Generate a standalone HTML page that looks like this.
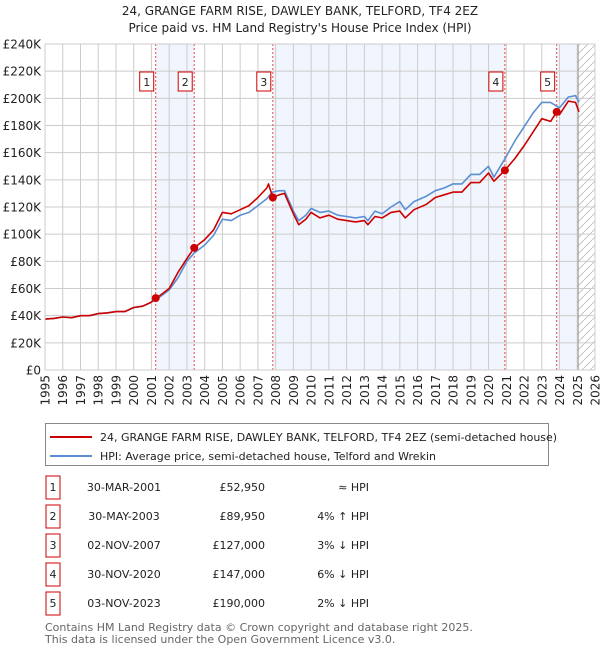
<!DOCTYPE html>
<html><head><meta charset="utf-8"><style>
body{margin:0;background:#fff;font-family:"Liberation Sans","DejaVu Sans",sans-serif;}
svg text{font-family:"DejaVu Sans","Liberation Sans",sans-serif;}
</style></head><body>
<svg id="c" width="600" height="650" xmlns="http://www.w3.org/2000/svg"></svg>
<script>
const years=[1995,1996,1997,1998,1999,2000,2001,2002,2003,2004,2005,2006,2007,2008,2009,2010,2011,2012,2013,2014,2015,2016,2017,2018,2019,2020,2021,2022,2023,2024,2025,2026];
const yTicks=[0,20,40,60,80,100,120,140,160,180,200,220,240];
const hpiDates=[1995,1995.5,1996,1996.5,1997,1997.5,1998,1998.5,1999,1999.5,2000,2000.5,2001,2001.5,2002,2002.5,2003,2003.4,2004,2004.5,2005,2005.5,2006,2006.5,2007,2007.5,2007.8,2008.2,2008.5,2009,2009.3,2009.7,2010,2010.5,2011,2011.5,2012,2012.5,2013,2013.2,2013.6,2014,2014.5,2015,2015.3,2015.8,2016.5,2017,2017.5,2018,2018.5,2019,2019.5,2020,2020.3,2020.9,2021.5,2022,2022.5,2023,2023.5,2024,2024.5,2024.9,2025.1];
const hpiVals=[37.5,38,39,38.5,40,40,41.5,42,43,43,46,47,50,54,59,68,80,86,92,99,111,110,114,116,121,126,131,132,132,117,110,114,119,116,117,114,113,112,113,110,117,115,120,124,118,124,128,132,134,137,137,144,144,150,142,155,169,179,189,197,197,193,201,202,197];
const saleDates=[2001.24,2003.41,2007.84,2020.92,2023.84];
const saleVals=[52.95,89.95,127,147,190];
const propDates=[1995,1995.5,1996,1996.5,1997,1997.5,1998,1998.5,1999,1999.5,2000,2000.5,2001,2001.24,2001.5,2002,2002.5,2003,2003.41,2004,2004.5,2005,2005.5,2006,2006.5,2007,2007.5,2007.6,2007.84,2008.2,2008.5,2009,2009.3,2009.7,2010,2010.5,2011,2011.5,2012,2012.5,2013,2013.2,2013.6,2014,2014.5,2015,2015.3,2015.8,2016.5,2017,2017.5,2018,2018.5,2019,2019.5,2020,2020.3,2020.92,2021.5,2022,2022.5,2023,2023.5,2023.84,2024,2024.5,2024.9,2025.1];
const propVals=[37.5,38,39,38.5,40,40,41.5,42,43,43,46,47,50,52.95,55,60,72,82,89.95,96,103,116,115,118,121,127,134,137,127,129,130,115,107,111,116,112,114,111,110,109,110,107,113,112,116,117,112,118,122,127,129,131,131,138,138,145,139,147,156,165,175,185,183,190,188,198,197,190];
const NS="http://www.w3.org/2000/svg";
const svg=document.getElementById('c');
const X0=45,X1=595,Y0=370,Y1=44;
const xs=v=>X0+(v-1995)/31*(X1-X0);
const ys=v=>Y0-v/240*(Y0-Y1);
function mk(t,a,p){const e=document.createElementNS(NS,t);for(const k in a)e.setAttribute(k,a[k]);(p||svg).appendChild(e);return e;}
let t=mk('text',{x:300,y:15,'text-anchor':'middle','font-size':12,fill:'#222'});t.textContent="24, GRANGE FARM RISE, DAWLEY BANK, TELFORD, TF4 2EZ";


t=mk('text',{x:300,y:32,'text-anchor':'middle','font-size':12,fill:'#222'});t.textContent="Price paid vs. HM Land Registry's House Price Index (HPI)";


const bands=[[saleDates[0],saleDates[1]],[saleDates[2],saleDates[3]],[saleDates[4],2025.05]];
bands.forEach(b=>{const r=mk('rect',{x:xs(b[0]),y:Y1,width:xs(b[1])-xs(b[0]),height:Y0-Y1,fill:'#f1f5fd'});

});
const defs=mk('defs',{});const pat=mk('pattern',{id:'h',width:8,height:8,patternUnits:'userSpaceOnUse'},defs);
mk('path',{d:'M0,8 L8,0',stroke:'#bbb','stroke-width':0.8},pat);
const hx=xs(2025.05);
let hr=mk('rect',{x:hx,y:Y1,width:X1-hx,height:Y0-Y1,fill:'url(#h)'});


yTicks.forEach(v=>{const l=mk('line',{x1:X0,x2:X1,y1:ys(v),y2:ys(v),stroke:'#ccc','stroke-width':1});


const tx=mk('text',{x:X0-4,y:ys(v)+4.5,'text-anchor':'end','font-size':12,fill:'#222'});tx.textContent=v===0?'£0':'£'+v+'K';

});
years.forEach(v=>{const l=mk('line',{x1:xs(v),x2:xs(v),y1:Y1,y2:Y0,stroke:'#ccc','stroke-width':1});


const tx=mk('text',{x:0,y:0,'text-anchor':'end','font-size':12,fill:'#222',transform:`translate(${xs(v)+4.5},${Y0+5}) rotate(-90)`});tx.textContent=v;

});
mk('line',{x1:hx,x2:hx,y1:Y1,y2:Y0,stroke:'#999','stroke-width':1});
saleDates.forEach((d,i)=>{const l=mk('line',{x1:xs(d),x2:xs(d),y1:Y1,y2:Y0,stroke:'#e44','stroke-width':1,'stroke-dasharray':'2,2'});


const g=mk('g',{});


mk('rect',{x:xs(d)-16,y:72,width:14,height:19,fill:'#fff',stroke:'#c00','stroke-width':1},g);
const tx=mk('text',{x:xs(d)-9,y:86,'text-anchor':'middle','font-size':11,fill:'#222'},g);tx.textContent=i+1;});
function line(dates,vals,col,name){const p=mk('path',{d:dates.map((d,i)=>(i?'L':'M')+xs(d).toFixed(1)+','+ys(vals[i]).toFixed(1)).join(''),fill:'none',stroke:col,'stroke-width':1.6,'stroke-linejoin':'round'});

}
line(hpiDates,hpiVals,'#5b8fd4','hpi-line');
line(propDates,propVals,'#cc0000','price-paid-line');
saleDates.forEach((d,i)=>{const c=mk('circle',{cx:xs(d),cy:ys(saleVals[i]),r:4,fill:'#cc0000'});

});
mk('rect',{x:X0,y:Y1,width:X1-X0,height:Y0-Y1,fill:'none',stroke:'#ccc'});
const lg=mk('g',{});


mk('rect',{x:45.5,y:423.5,width:503,height:42,fill:'#fff',stroke:'#888'},lg);
mk('line',{x1:50,x2:92,y1:437,y2:437,stroke:'#cc0000','stroke-width':2},lg);
mk('line',{x1:50,x2:92,y1:456,y2:456,stroke:'#5b8fd4','stroke-width':2},lg);
t=mk('text',{x:100,y:441,'font-size':11,fill:'#222'},lg);t.textContent="24, GRANGE FARM RISE, DAWLEY BANK, TELFORD, TF4 2EZ (semi-detached house)";
t=mk('text',{x:100,y:460,'font-size':11,fill:'#222'},lg);t.textContent="HPI: Average price, semi-detached house, Telford and Wrekin";
const tDates=["30-MAR-2001","30-MAY-2003","02-NOV-2007","30-NOV-2020","03-NOV-2023"];
const tPrices=["£52,950","£89,950","£127,000","£147,000","£190,000"];
const tHpi=["≈ HPI","4% ↑ HPI","3% ↓ HPI","6% ↓ HPI","2% ↓ HPI"];
tDates.forEach((d,i)=>{const y=487+i*29;const g=mk('g',{});


mk('rect',{x:46,y:y-11,width:14,height:23,fill:'#fff',stroke:'#c00'},g);
let a=mk('text',{x:53,y:y+4,'text-anchor':'middle','font-size':11,fill:'#222'},g);a.textContent=i+1;
a=mk('text',{x:124,y:y+4,'text-anchor':'middle','font-size':11,fill:'#222'},g);a.textContent=d;
a=mk('text',{x:265,y:y+4,'text-anchor':'end','font-size':11,fill:'#222'},g);a.textContent=tPrices[i];
a=mk('text',{x:369,y:y+4,'text-anchor':'end','font-size':11,fill:'#222'},g);a.textContent=tHpi[i];});
t=mk('text',{x:45,y:631,'font-size':11,fill:'#666'});t.textContent="Contains HM Land Registry data © Crown copyright and database right 2025.";


t=mk('text',{x:45,y:643,'font-size':11,fill:'#666'});t.textContent="This data is licensed under the Open Government Licence v3.0.";


</script>
</body></html>
